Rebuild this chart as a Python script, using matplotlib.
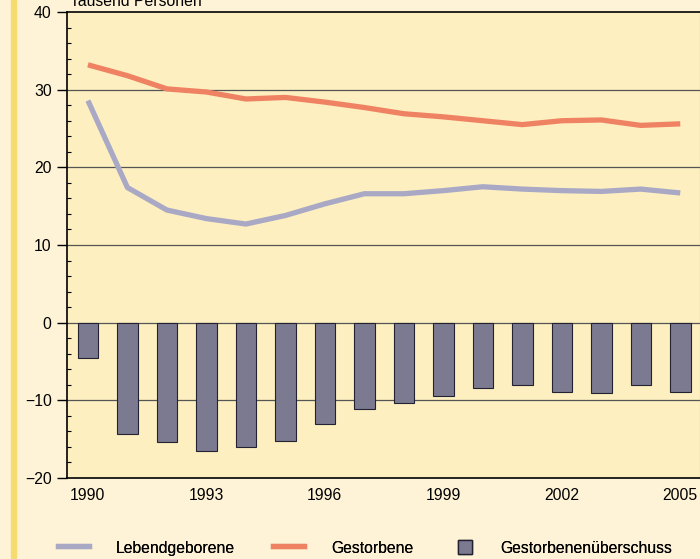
import numpy as np
import matplotlib.pyplot as plt
from matplotlib.lines import Line2D
from matplotlib.patches import Patch

plt.rcParams['font.family'] = ['Liberation Sans', 'DejaVu Sans']

years = np.arange(1990, 2006)
lebend = [28.6, 17.4, 14.5, 13.4, 12.7, 13.8, 15.3, 16.6, 16.6, 17.0, 17.5, 17.2, 17.0, 16.9, 17.2, 16.7]
gestorben = [33.2, 31.8, 30.1, 29.7, 28.8, 29.0, 28.4, 27.7, 26.9, 26.5, 26.0, 25.5, 26.0, 26.1, 25.4, 25.6]
ueberschuss = [-4.6, -14.3, -15.4, -16.5, -16.0, -15.2, -13.1, -11.1, -10.3, -9.5, -8.4, -8.0, -8.9, -9.1, -8.0, -8.9]

c_leb = "#a9a9c6"
c_ges = "#ef8262"
c_bar = "#7b7a90"
fs = 11.3

fig = plt.figure(figsize=(7, 5.59), dpi=100, facecolor="#fef3d6")
ax = fig.add_axes([67/700, 1-478/559, 633/700, 466/559])
ax.set_facecolor("#fdefc0")

# yellow stripe on the left
fig.patches.append(plt.Rectangle((11/700, 0), 5/700, 1, transform=fig.transFigure,
                                 color="#f6dc70", zorder=0))

for y in [-10, 0, 10, 20, 30]:
    ax.axhline(y, color="#555555", lw=0.9, zorder=1)

ax.bar(years, ueberschuss, width=0.52, color=c_bar, edgecolor="#222233", lw=0.8, zorder=2)
ax.plot(years, lebend, color=c_leb, lw=3.8, zorder=3, solid_capstyle="butt")
ax.plot(years, gestorben, color=c_ges, lw=3.8, zorder=3, solid_capstyle="butt")

ax.set_xlim(1989.47, 2005.5)
ax.set_ylim(-20, 40)
ax.set_yticks([-20, -10, 0, 10, 20, 30, 40])
ax.set_yticks(np.arange(-20, 40, 2), minor=True)
ax.set_xticks([1990, 1993, 1996, 1999, 2002, 2005])
ax.tick_params(axis="y", length=7, width=1, labelsize=fs, pad=4)
ax.tick_params(axis="y", which="minor", length=3, direction="in", width=0.8)
ax.tick_params(axis="x", length=0, labelsize=fs, pad=7)

for s in ["left", "bottom", "top"]:
    ax.spines[s].set_color("black")
    ax.spines[s].set_linewidth(1.2)
ax.spines["right"].set_color("#c8b890")
ax.spines["right"].set_linewidth(0.8)

fig.text(70/700, 1-6/559, "Tausend Personen", fontsize=fs, va="baseline", ha="left")

# legend, three separate entries placed along the bottom
entries = [
    (Line2D([0], [0], color=c_leb, lw=3.8), "Lebendgeborene", 58, 2.0),
    (Line2D([0], [0], color=c_ges, lw=3.8), "Gestorbene", 273, 2.0),
    (Patch(facecolor=c_bar, edgecolor="#222233"), "Gestorbenenüberschuss", 458, 0.9),
]
for h, lab, xpos, hl in entries:
    leg = fig.legend([h], [lab], loc="center left", bbox_to_anchor=(xpos/700, 1-548/559),
                     frameon=False, fontsize=fs, handlelength=hl, handleheight=1.0,
                     handletextpad=1.7 if hl > 1 else 1.8, borderpad=0, borderaxespad=0)
    fig.add_artist(leg)

fig.savefig("out.png", dpi=100, facecolor=fig.get_facecolor())
